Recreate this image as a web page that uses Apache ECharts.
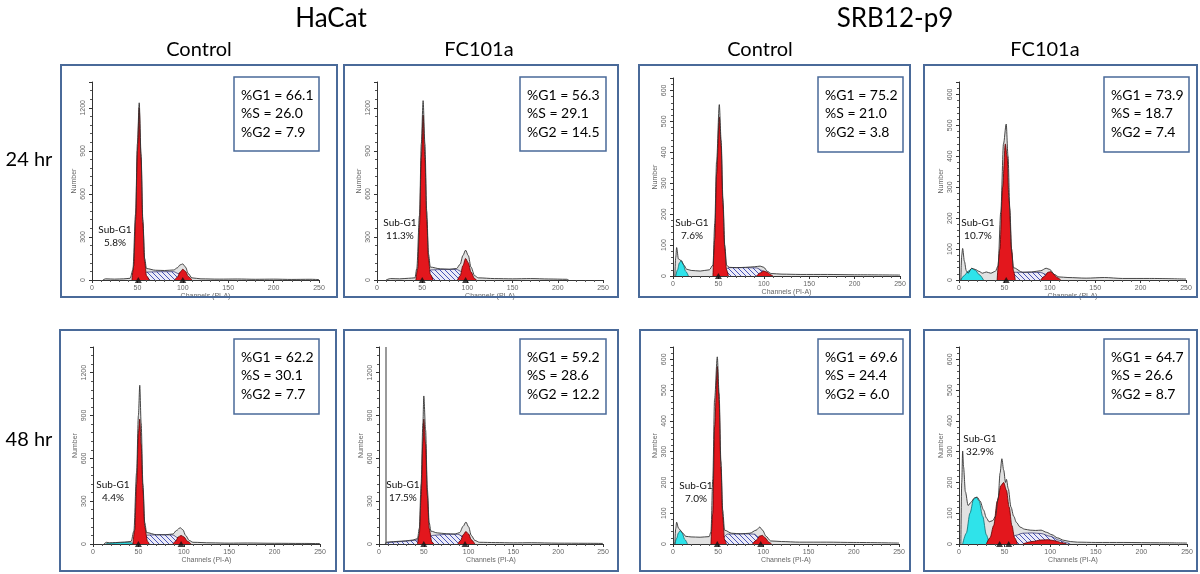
<!DOCTYPE html>
<html><head><meta charset="utf-8">
<script src="https://cdn.jsdelivr.net/npm/echarts@6/dist/echarts.min.js"></script>
<style>html,body{margin:0;padding:0;background:#fff}#c{width:1200px;height:574px}</style>
</head><body><div id="c"></div><script>
// ---------- DATA (channel, count) ----------
const xTicks = [0, 50, 100, 150, 200, 250];
const hacatYTicks = [0, 300, 600, 900, 1200];
const srbYTicks = [0, 100, 200, 300, 400, 500, 600];
const cellLines = ['HaCat', 'SRB12-p9'];
const treatments = ['Control', 'FC101a', 'Control', 'FC101a'];
const times = ['24 hr', '48 hr'];

// Panel 1: HaCat Control 24 hr
const p1Raw = [[12,0],[15,8],[25,6],[35,8],[42,12],[45,70],[48,460],[50,950],[52,1235],[54,880],[56,420],[58,150],[60,80],[70,68],[80,66],[90,70],[94,85],[97,105],[100,112],[103,90],[106,45],[110,15],[120,8],[140,6],[160,7],[180,5],[200,6],[220,4],[240,5],[250,3]];
const p1Sub = [];
const p1G1 = [[44,0],[46,100],[48,420],[50,900],[52,1200],[54,850],[56,400],[58,130],[60,30],[63,0]];
const p1S = [[54,0],[57,35],[60,55],[75,58],[90,58],[95,45],[100,20],[104,0]];
const p1G2 = [[91,0],[94,20],[97,55],[100,75],[103,60],[106,25],[110,0]];
const p1Marks = [51, 100];
// Panel 2: HaCat FC101a 24 hr
const p2Raw = [[10,0],[15,10],[25,8],[35,12],[42,15],[44,80],[47,450],[49,950],[51,1250],[53,950],[55,480],[57,180],[59,90],[70,78],[80,75],[88,80],[92,110],[95,170],[98,208],[101,170],[104,90],[108,30],[112,15],[130,10],[150,8],[170,10],[190,7],[210,5],[212,0]];
const p2Sub = [];
const p2G1 = [[43,0],[45,80],[47,380],[49,850],[51,1150],[53,850],[55,420],[57,150],[59,40],[62,0]];
const p2S = [[53,0],[56,40],[59,70],[75,74],[88,74],[93,60],[98,30],[103,0]];
const p2G2 = [[89,0],[92,30],[95,100],[98,150],[101,120],[104,55],[108,10],[110,0]];
const p2Marks = [50, 98];
// Panel 3: SRB12-p9 Control 24 hr
const p3Raw = [[2,0],[3,60],[4,92],[6,55],[9,50],[12,35],[15,22],[20,18],[30,16],[40,20],[44,35],[46,170],[48,370],[51,554],[53,440],[55,250],[57,100],[59,35],[62,28],[70,27],[80,28],[90,30],[96,32],[100,28],[104,15],[108,8],[120,6],[140,5],[170,5],[200,4],[250,3]];
const p3Sub = [[3,0],[5,20],[7,42],[9,50],[11,40],[14,15],[17,0]];
const p3G1 = [[44,0],[46,120],[48,330],[51,514],[53,420],[55,230],[57,90],[59,20],[61,0]];
const p3S = [[55,0],[58,20],[61,27],[80,27],[92,26],[98,18],[104,5],[106,0]];
const p3G2 = [[92,0],[96,10],[100,16],[104,12],[108,3],[110,0]];
const p3Marks = [50];
// Panel 4: SRB12-p9 FC101a 24 hr
const p4Raw = [[2,0],[3,80],[4,102],[6,60],[8,30],[10,22],[14,38],[18,34],[22,28],[26,22],[30,26],[35,22],[40,28],[43,45],[46,220],[49,440],[52,504],[54,400],[56,230],[58,90],[60,40],[70,25],[80,26],[90,30],[96,38],[100,34],[105,18],[110,10],[120,8],[140,6],[160,8],[180,5],[210,5],[250,3]];
const p4Sub = [[2,0],[6,15],[10,28],[14,37],[18,32],[22,18],[27,0]];
const p4G1 = [[42,0],[45,100],[48,300],[51,440],[53,400],[55,260],[58,100],[60,30],[62,0]];
const p4S = [[55,0],[58,18],[62,25],[80,25],[90,24],[96,18],[102,6],[106,0]];
const p4G2 = [[90,0],[94,12],[98,25],[101,27],[104,20],[108,8],[112,0]];
const p4Marks = [52];
// Panel 5: HaCat Control 48 hr
const p5Raw = [[12,0],[15,12],[18,8],[25,10],[35,14],[42,18],[45,90],[48,500],[50,900],[51.5,1112],[53,850],[55,420],[57,150],[59,80],[70,65],[80,65],[88,70],[92,95],[96,114],[99,100],[102,60],[106,25],[110,12],[130,8],[150,6],[170,7],[200,5],[230,4],[250,3]];
const p5Sub = [[14,0],[18,6],[25,8],[35,10],[42,8],[45,0]];
const p5G1 = [[44,0],[46,100],[48,420],[50,780],[51.5,875],[53,700],[55,380],[57,120],[60,20],[62,0]];
const p5S = [[54,0],[57,40],[60,62],[75,65],[88,63],[93,45],[98,20],[102,0]];
const p5G2 = [[88,0],[91,20],[94,50],[97,60],[100,50],[104,20],[108,0]];
const p5Marks = [50, 97];
// Panel 6: HaCat FC101a 48 hr
const p6Raw = [[7,0],[8,12],[12,15],[20,18],[30,22],[38,28],[43,38],[45,110],[47,420],[49,850],[50,1037],[52,800],[54,380],[56,150],[58,90],[65,78],[75,72],[85,70],[90,80],[94,125],[97,154],[100,120],[103,60],[107,25],[112,12],[130,10],[150,8],[170,9],[200,6],[230,5],[250,4]];
const p6Sub = [];
const p6G1 = [[43,0],[45,70],[47,330],[49,720],[50,875],[52,700],[54,340],[56,110],[59,15],[61,0]];
const p6S = [[8,0],[10,10],[20,15],[30,20],[40,26],[50,38],[60,60],[75,68],[88,68],[93,55],[98,25],[102,0]];
const p6G2 = [[88,0],[91,25],[94,65],[97,88],[100,70],[103,30],[107,0]];
const p6Marks = [50, 96];
// Panel 7: SRB12-p9 Control 48 hr
const p7Raw = [[2,0],[3,50],[4,71],[6,52],[8,45],[11,35],[14,25],[20,23],[30,22],[40,24],[42,40],[44,210],[46,470],[49,608],[51,490],[53,270],[55,110],[57,45],[65,35],[75,33],[85,35],[92,45],[96,55],[99,45],[103,25],[108,10],[120,8],[140,6],[170,6],[200,5],[250,3]];
const p7Sub = [[2,0],[4,18],[6,36],[8,44],[10,36],[13,15],[16,0]];
const p7G1 = [[42,0],[44,100],[46,380],[49,577],[51,460],[53,250],[55,90],[57,15],[59,0]];
const p7S = [[53,0],[56,22],[60,32],[80,33],[90,32],[95,22],[100,8],[104,0]];
const p7G2 = [[88,0],[92,12],[96,26],[99,28],[102,20],[106,6],[109,0]];
const p7Marks = [49, 97];
// Panel 8: SRB12-p9 FC101a 48 hr
const p8Raw = [[2,0],[3,200],[4,302],[5,250],[7,170],[10,125],[13,135],[17,150],[20,152],[23,140],[27,110],[30,85],[33,72],[37,76],[40,90],[43,150],[45,230],[47,277],[49,240],[51,200],[52,210],[54,180],[57,120],[60,90],[63,70],[67,55],[72,48],[78,45],[84,44],[90,45],[96,38],[102,30],[108,20],[115,12],[122,8],[130,6],[150,5],[180,5],[220,4],[250,3]];
const p8Sub = [[4,0],[8,35],[12,100],[16,145],[19,152],[22,140],[26,90],[30,30],[33,0]];
const p8G1 = [[30,0],[34,20],[38,60],[42,140],[46,190],[49,200],[52,175],[55,120],[58,60],[61,20],[64,0]];
const p8S = [[48,0],[55,15],[62,28],[70,35],[80,36],[90,34],[100,25],[110,12],[118,4],[122,0]];
const p8G2 = [[70,0],[80,8],[90,13],[98,14],[106,10],[113,4],[118,0]];
const p8Marks = [44.5, 54.5];

const gates = [null, null, null, null, null, 7, null, null];
const statG1 = ['66.1','56.3','75.2','73.9','62.2','59.2','69.6','64.7'];
const statS  = ['26.0','29.1','21.0','18.7','30.1','28.6','24.4','26.6'];
const statG2 = ['7.9','14.5','3.8','7.4','7.7','12.2','6.0','8.7'];
const subG1  = ['5.8%','11.3%','7.6%','10.7%','4.4%','17.5%','7.0%','32.9%'];

const raws = [p1Raw,p2Raw,p3Raw,p4Raw,p5Raw,p6Raw,p7Raw,p8Raw];
const subs = [p1Sub,p2Sub,p3Sub,p4Sub,p5Sub,p6Sub,p7Sub,p8Sub];
const g1s  = [p1G1,p2G1,p3G1,p4G1,p5G1,p6G1,p7G1,p8G1];
const ss   = [p1S,p2S,p3S,p4S,p5S,p6S,p7S,p8S];
const g2s  = [p1G2,p2G2,p3G2,p4G2,p5G2,p6G2,p7G2,p8G2];
const marks= [p1Marks,p2Marks,p3Marks,p4Marks,p5Marks,p6Marks,p7Marks,p8Marks];
const isHacat = [true,true,false,false,true,true,false,false];

// ---------- LAYOUT ----------
const gridPos = [
  {left:92, top:82, width:227, height:198},
  {left:377, top:82, width:226, height:198},
  {left:673, top:78, width:227, height:198},
  {left:959, top:82, width:227, height:198},
  {left:93, top:347, width:227, height:197},
  {left:379, top:347, width:224, height:197},
  {left:673, top:347, width:226, height:197},
  {left:959, top:347, width:228, height:197}
];
const panelBox = [
  [61,65,276,232],[344,65,274,232],[639,65,271,232],[924,65,273,232],
  [60,330,276,241],[344,330,274,241],[640,330,270,241],[924,330,273,241]
];
const statBox = [
  [234,77,85,74],[520,77,86,74],[818,77,85,75],[1104,77,85,75],
  [234,339,85,75],[520,339,86,75],[818,339,85,75],[1104,339,85,75]
];
const subPos = [[115,230],[400,223],[692,223],[978,223],[113,485],[403,485],[696,486],[980,439]];

const FONT = 'Lato, "Open Sans", sans-serif';
const BLUE = '#4a6a99';

function hatch(){
  const c=document.createElement('canvas'); c.width=c.height=5;
  const g=c.getContext('2d'); g.fillStyle='#ecebf7'; g.fillRect(0,0,5,5);
  g.strokeStyle='#3444b0'; g.lineWidth=0.9; g.beginPath();
  g.moveTo(-1,-1); g.lineTo(6,6); g.moveTo(-1,4); g.lineTo(1,6); g.moveTo(4,-1); g.lineTo(6,1);
  g.stroke(); return c;
}
const hatchImg = hatch();

const chart = echarts.init(document.getElementById('c'), null, {renderer:'canvas'});
const grids=[], xAxes=[], yAxes=[], series=[], graphics=[];

for (let i=0;i<8;i++){
  grids.push(Object.assign({outerBoundsMode:'none', containLabel:false}, gridPos[i]));
  xAxes.push({
    type:'value', gridIndex:i, min:xTicks[0], max:xTicks[xTicks.length-1], interval:xTicks[1]-xTicks[0],
    axisLine:{show:true, onZero:false, lineStyle:{color:'#333', width:1}},
    axisTick:{show:true, length:3, lineStyle:{color:'#333'}},
    minorTick:{show:true, splitNumber:5, length:2, lineStyle:{color:'#555'}},
    splitLine:{show:false},
    axisLabel:{fontSize:7, color:'#666', margin:5, fontFamily:'Arial'},
    name:'Channels (PI-A)', nameLocation:'middle', nameGap:13,
    nameTextStyle:{fontSize:7, color:'#666', fontFamily:'Arial'}
  });
  const ticks = isHacat[i] ? hacatYTicks : srbYTicks;
  const step = ticks[1]-ticks[0];
  yAxes.push({
    type:'value', gridIndex:i, min:0, max: isHacat[i] ? 1380 : 640, interval:step,
    axisLine:{show:true, lineStyle:{color:'#333', width:1}},
    axisTick:{show:true, length:3, lineStyle:{color:'#333'}},
    minorTick:{show:true, splitNumber:5, length:2, lineStyle:{color:'#555'}},
    splitLine:{show:false},
    axisLabel:{fontSize:7, color:'#666', rotate:90, margin:5, showMaxLabel:false, fontFamily:'Arial',
      formatter:v=> ticks.indexOf(v)>=0 ? String(v) : ''},
    name:'Number', nameLocation:'middle', nameGap:14,
    nameTextStyle:{fontSize:7, color:'#666', fontFamily:'Arial'}
  });
  const common = {type:'line', xAxisIndex:i, yAxisIndex:i, showSymbol:false, symbol:'none',
    smooth:0.3, smoothMonotone:'x', animation:false, silent:true};
  series.push(Object.assign({}, common, {data:raws[i], z:1,
    lineStyle:{width:0}, areaStyle:{color:'#e2e2e2', opacity:1},
    markLine: gates[i]!=null ? {symbol:'none', silent:true, label:{show:false},
      lineStyle:{color:'#9a9a9a', width:2, type:'solid'}, data:[{xAxis:gates[i]}]} : undefined}));
  series.push(Object.assign({}, common, {data:ss[i], z:2,
    lineStyle:{width:0.7, color:'#2a2a6a'}, areaStyle:{color:{image:hatchImg, repeat:'repeat'}, opacity:1}}));
  if (subs[i].length) series.push(Object.assign({}, common, {data:subs[i], z:3,
    lineStyle:{width:0.8, color:'#0b6d72'}, areaStyle:{color:'#2fe3ea', opacity:1}}));
  series.push(Object.assign({}, common, {data:g2s[i], z:3,
    lineStyle:{width:0.8, color:'#5a0000'}, areaStyle:{color:'#e0161c', opacity:1}}));
  series.push(Object.assign({}, common, {data:g1s[i], z:4,
    lineStyle:{width:0.8, color:'#5a0000'}, areaStyle:{color:'#e3171d', opacity:1}}));
  series.push(Object.assign({}, common, {data:raws[i], z:5,
    lineStyle:{width:0.9, color:'#333'}}));
  series.push({type:'scatter', xAxisIndex:i, yAxisIndex:i, data:marks[i].map(m=>[m,0]),
    symbol:'triangle', symbolSize:[7,6], itemStyle:{color:'#111'}, z:6, animation:false, silent:true, clip:false});

  const pb = panelBox[i];
  graphics.push({type:'rect', shape:{x:pb[0], y:pb[1], width:pb[2], height:pb[3]},
    style:{fill:'none', stroke:BLUE, lineWidth:2}, z:100, silent:true});
  const sb = statBox[i];
  graphics.push({type:'rect', shape:{x:sb[0], y:sb[1], width:sb[2], height:sb[3]},
    style:{fill:'#fff', stroke:BLUE, lineWidth:1.5}, z:100, silent:true});
  const lines = ['%G1 = '+statG1[i], '%S = '+statS[i], '%G2 = '+statG2[i]];
  lines.forEach((t,k)=>{
    graphics.push({type:'text', x:sb[0]+7, y:sb[1]+18+k*18.5, z:101, silent:true,
      style:{text:t, fill:'#000', font:'14px '+FONT, textAlign:'left', textVerticalAlign:'middle'}});
  });
  const sp = subPos[i];
  graphics.push({type:'text', x:sp[0], y:sp[1], z:101, silent:true,
    style:{text:'Sub-G1', fill:'#111', font:'10px '+FONT, textAlign:'center', textVerticalAlign:'middle'}});
  graphics.push({type:'text', x:sp[0], y:sp[1]+12.5, z:101, silent:true,
    style:{text:subG1[i], fill:'#111', font:'10px '+FONT, textAlign:'center', textVerticalAlign:'middle'}});
}

const headerX = [331, 895];
cellLines.forEach((t,k)=>graphics.push({type:'text', x:headerX[k], y:19, silent:true,
  style:{text:t, fill:'#000', font:'26px '+FONT, textAlign:'center', textVerticalAlign:'middle'}}));
const subX = [199, 479, 760, 1045];
treatments.forEach((t,k)=>graphics.push({type:'text', x:subX[k], y:50, silent:true,
  style:{text:t, fill:'#000', font:'20px '+FONT, textAlign:'center', textVerticalAlign:'middle'}}));
const rowY = [160, 440];
times.forEach((t,k)=>graphics.push({type:'text', x:29, y:rowY[k], silent:true,
  style:{text:t, fill:'#000', font:'20px '+FONT, textAlign:'center', textVerticalAlign:'middle'}}));

chart.setOption({
  animation:false,
  backgroundColor:'#fff',
  grid:grids, xAxis:xAxes, yAxis:yAxes, series:series, graphic:graphics
});
</script></body></html>
